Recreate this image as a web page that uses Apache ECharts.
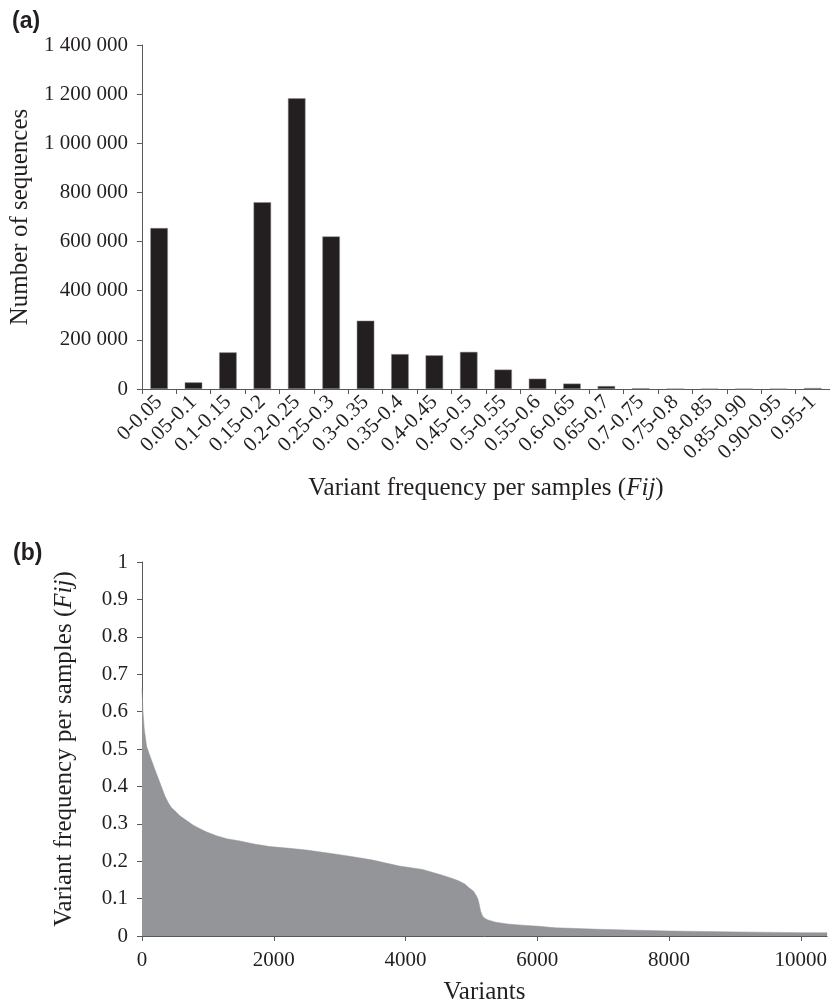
<!DOCTYPE html>
<html>
<head>
<meta charset="utf-8">
<script src="https://cdn.jsdelivr.net/npm/echarts@6/dist/echarts.min.js"></script>
<style>
  html, body { margin: 0; padding: 0; background: #ffffff; }
  #chart { width: 830px; height: 1006px; }
</style>
</head>
<body>
<div id="chart"></div>
<script>
// (a) histogram of variant frequency classes
const freqClasses = ['0-0.05', '0.05-0.1', '0.1-0.15', '0.15-0.2', '0.2-0.25', '0.25-0.3', '0.3-0.35',
  '0.35-0.4', '0.4-0.45', '0.45-0.5', '0.5-0.55', '0.55-0.6', '0.6-0.65', '0.65-0.7', '0.7-0.75',
  '0.75-0.8', '0.8-0.85', '0.85-0.90', '0.90-0.95', '0.95-1'];
const sequenceCounts = [655000, 27000, 149000, 760000, 1183000, 621000, 278000,
  142000, 137000, 151000, 79000, 42000, 22000, 12000, 3000,
  1000, 500, 500, 500, 4000];
const countTicks = [0, 200000, 400000, 600000, 800000, 1000000, 1200000, 1400000];

// (b) ranked frequency of each variant
const variantRank = [0, 5, 15, 35, 70, 121, 196, 272, 348, 400, 448, 503, 570, 650, 780, 880, 983,
  1130, 1285, 1486, 1700, 1940, 2200, 2494, 2897, 3200, 3501, 3905, 4257, 4510, 4710, 4812, 4900,
  4963, 5030, 5064, 5095, 5114, 5140, 5165, 5190, 5250, 5367, 5550, 5769, 6021, 6273, 6600, 6929,
  7500, 8000, 9000, 9977, 10400];
const variantFreq = [0.66, 0.64, 0.60, 0.552, 0.507, 0.481, 0.445, 0.410, 0.374, 0.356, 0.343, 0.334,
  0.322, 0.312, 0.296, 0.287, 0.278, 0.268, 0.260, 0.254, 0.246, 0.239, 0.235, 0.230, 0.220, 0.212,
  0.203, 0.187, 0.178, 0.165, 0.154, 0.147, 0.139, 0.129, 0.120, 0.111, 0.101, 0.089, 0.067, 0.055,
  0.049, 0.043, 0.037, 0.032, 0.029, 0.026, 0.022, 0.020, 0.018, 0.0155, 0.0134, 0.011, 0.009, 0.0085];

const ink = '#231f20';
const axisGrey = '#58595b';
const serif = '"Liberation Serif", "Times New Roman", serif';

const spaced = v => String(v).replace(/\B(?=(\d{3})+(?!\d))/g, ' ');

const chart = echarts.init(document.getElementById('chart'), null, { renderer: 'canvas' });

const axisCommon = {
  axisLine: { show: true, lineStyle: { color: axisGrey, width: 1 } },
  axisTick: { show: true, length: 5, lineStyle: { color: axisGrey, width: 1 } },
  splitLine: { show: false }
};

chart.setOption({
  animation: false,
  backgroundColor: '#ffffff',
  textStyle: { fontFamily: serif, color: ink },
  graphic: [
    { type: 'text', left: 12, top: 10, style: { text: '(a)', font: 'bold 23px "Liberation Sans", Arial, sans-serif', fill: ink } },
    { type: 'text', left: 13, top: 542, style: { text: '(b)', font: 'bold 23px "Liberation Sans", Arial, sans-serif', fill: ink } }
  ],
  grid: [
    { left: 140, top: 45, right: -7, height: 344, containLabel: false },
    { left: 142, top: 562, right: 0, height: 375, containLabel: false }
  ],
  xAxis: [
    Object.assign({}, axisCommon, {
      type: 'category',
      gridIndex: 0,
      data: freqClasses,
      boundaryGap: true,
      axisLabel: { interval: 0, rotate: 45, fontSize: 21, fontFamily: serif, color: ink, margin: 10 },
      name: 'Variant frequency per samples ({i|Fij})',
      nameLocation: 'middle',
      nameGap: 87,
      nameTextStyle: {
        fontSize: 25, fontFamily: serif, color: ink,
        rich: { i: { fontSize: 25, fontFamily: serif, fontStyle: 'italic', color: ink } }
      }
    }),
    Object.assign({}, axisCommon, {
      type: 'value',
      gridIndex: 1,
      min: 0,
      max: 10400,
      interval: 2000,
      axisLabel: { fontSize: 21, fontFamily: serif, color: ink, margin: 14, showMaxLabel: false, formatter: v => String(v) },
      name: 'Variants',
      nameLocation: 'middle',
      nameGap: 44,
      nameTextStyle: { fontSize: 25, fontFamily: serif, color: ink }
    })
  ],
  yAxis: [
    Object.assign({}, axisCommon, {
      type: 'value',
      gridIndex: 0,
      min: countTicks[0],
      max: countTicks[countTicks.length - 1],
      interval: countTicks[1] - countTicks[0],
      axisLabel: { fontSize: 21, fontFamily: serif, color: ink, margin: 14, formatter: spaced },
      name: 'Number of sequences',
      nameLocation: 'middle',
      nameGap: 102,
      nameTextStyle: { fontSize: 25, fontFamily: serif, color: ink }
    }),
    Object.assign({}, axisCommon, {
      type: 'value',
      gridIndex: 1,
      min: 0,
      max: 1,
      interval: 0.1,
      axisLabel: { fontSize: 21, fontFamily: serif, color: ink, margin: 14 },
      name: 'Variant frequency per samples ({i|Fij})',
      nameLocation: 'middle',
      nameGap: 65,
      nameTextStyle: {
        fontSize: 25, fontFamily: serif, color: ink,
        rich: { i: { fontSize: 25, fontFamily: serif, fontStyle: 'italic', color: ink } }
      }
    })
  ],
  series: [
    {
      type: 'bar',
      xAxisIndex: 0,
      yAxisIndex: 0,
      data: sequenceCounts,
      barWidth: 17.5,
      itemStyle: { color: ink, borderColor: '#8a8a8c', borderWidth: 0.5 }
    },
    {
      type: 'line',
      xAxisIndex: 1,
      yAxisIndex: 1,
      data: variantRank.map((r, i) => [r, variantFreq[i]]),
      smooth: false,
      showSymbol: false,
      lineStyle: { width: 0.5, color: '#939598' },
      areaStyle: { color: '#939598', opacity: 1 }
    }
  ]
});
</script>
</body>
</html>
